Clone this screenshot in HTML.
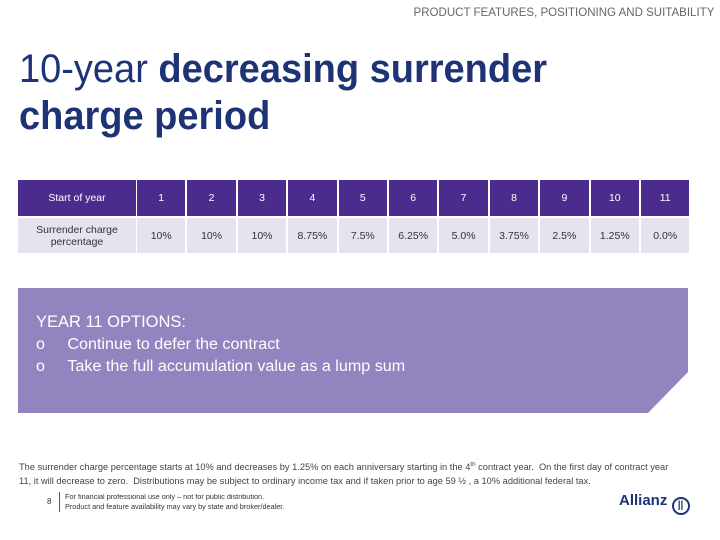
<!DOCTYPE html>
<html><head><meta charset="utf-8"><style>
body{margin:0;width:720px;height:540px;position:relative;background:#fff;font-family:"Liberation Sans",sans-serif;overflow:hidden}
.a{position:absolute;white-space:nowrap}
.sq{display:inline-block;transform-origin:left top}
.cell{position:absolute;display:flex;align-items:center;justify-content:center;text-align:center;font-size:10.5px}
.h{background:#4b2c8d;color:#fff;top:180px;height:36px}
.r{background:#e6e2ef;color:#333;top:218px;height:35px}
</style></head><body>
<div class="a" style="right:6px;top:5px;font-size:12px;color:#666"><span class="sq" style="transform:scaleX(0.96);transform-origin:right top">PRODUCT FEATURES, POSITIONING AND SUITABILITY</span></div>
<div class="a" style="left:19px;top:46px;font-size:40px;line-height:47px;color:#1e3276">
<span class="sq" style="transform:scaleX(0.95)">10-year <b>decreasing surrender</b><br><b>charge period</b></span></div>
<div id="tbl"></div>
<svg class="a" style="left:0;top:0" width="720" height="540"><polygon points="18,288 688,288 688,372 648,413 18,413" fill="#9184bf"/></svg>
<div class="a" style="left:36px;top:312px;font-size:17px;color:#fff"><span class="sq" style="transform:scaleX(0.97)">YEAR 11 OPTIONS:</span></div>
<div class="a" style="left:36px;top:336px;font-size:15.5px;color:#fff"><span class="sq" style="transform:scaleX(1.04)">o&nbsp;&nbsp;&nbsp;&nbsp;&nbsp;Continue to defer the contract</span></div>
<div class="a" style="left:36px;top:358px;font-size:15.5px;color:#fff"><span class="sq" style="transform:scaleX(1.04)">o&nbsp;&nbsp;&nbsp;&nbsp;&nbsp;Take the full accumulation value as a lump sum</span></div>
<div class="a" style="left:19px;top:458px;font-size:9px;line-height:14px;color:#444"><span class="sq" style="transform:scaleX(1.03)">The surrender charge percentage starts at 10% and decreases by 1.25% on each anniversary starting in the 4<sup style="font-size:6px">th</sup> contract year.&nbsp; On the first day of contract year<br>11, it will decrease to zero.&nbsp; Distributions may be subject to ordinary income tax and if taken prior to age 59 ½ , a 10% additional federal tax.</span></div>
<div class="a" style="left:47px;top:497px;font-size:8px;color:#333">8</div>
<div class="a" style="left:59px;top:492px;width:1px;height:20px;background:#555"></div>
<div class="a" style="left:65px;top:493px;font-size:7px;line-height:10px;color:#333"><span class="sq" style="transform:scaleX(1.04)">For financial professional use only – not for public distribution.<br>Product and feature availability may vary by state and broker/dealer.</span></div>
<div class="a" style="left:619px;top:492px;font-size:15px;font-weight:bold;color:#1e3276">Allianz <span style="display:inline-block;width:14px;height:14px;border:2px solid #1e3276;border-radius:50%;vertical-align:-3px;font-size:10px;text-align:center;line-height:14px">||</span></div>
<script>
var years=["1","2","3","4","5","6","7","8","9","10","11"];
var charges=["10%","10%","10%","8.75%","7.5%","6.25%","5.0%","3.75%","2.5%","1.25%","0.0%"];
var t=document.getElementById('tbl');
function mk(cls,x,w,txt,name){var d=document.createElement('div');d.className='cell '+cls;d.style.left=x+'px';d.style.width=w+'px';d.innerHTML=txt;


t.appendChild(d);}
mk('h',18,118,'Start of year','header-label');
mk('r',18,118,'Surrender charge<br>percentage','row-label');
years.forEach(function(y,i){var x=137+i*50.4;mk('h',x,48.4,y,'year-'+y);mk('r',x,48.4,charges[i],'charge-year-'+y);});
</script>
</body></html>
